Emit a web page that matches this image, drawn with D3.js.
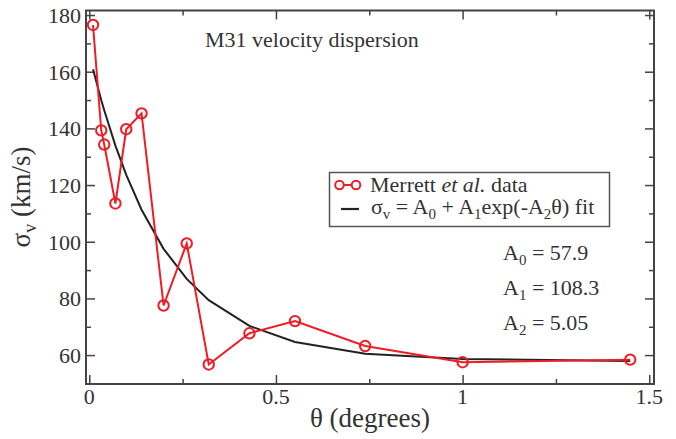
<!DOCTYPE html>
<html>
<head>
<meta charset="utf-8">
<script src="https://cdn.jsdelivr.net/npm/d3@7/dist/d3.min.js"></script>
<style>
  html, body { margin: 0; padding: 0; background: #fff; }
  svg { display: block; }
</style>
</head>
<body>
<svg id="chart" width="676" height="439"></svg>
<script>
// Data
const theta = [0.01, 0.032, 0.04, 0.07, 0.099, 0.14, 0.199, 0.261, 0.32, 0.429, 0.551, 0.739, 1.0, 1.449];
const sigma = [176.5, 139.3, 134.3, 113.5, 139.7, 145.3, 77.5, 99.4, 56.7, 67.7, 72.0, 63.2, 57.5, 58.4];
const fitValues = [160.9, 150.0, 146.4, 133.9, 123.6, 111.3, 97.5, 86.9, 79.4, 70.3, 64.6, 60.5, 58.6, 57.9];
const xTicks = [0, 0.5, 1, 1.5];
const xTickLabels = ["0", "0.5", "1", "1.5"];
const xMinorTicks = [0.25, 0.75, 1.25];
const yTicks = [60, 80, 100, 120, 140, 160, 180];
const yMinorTicks = [70, 90, 110, 130, 150, 170];
const fitParams = [["0", "57.9"], ["1", "108.3"], ["2", "5.05"]];

(function () {
const FONT = "Liberation Serif";
const svg = d3.select("#chart");
const pLeft = 86, pRight = 654, pTop = 10.5, pBottom = 384;
const x = d3.scaleLinear().domain([-0.0088, 1.5127]).range([pLeft, pRight]);
const y = d3.scaleLinear().domain([49.8, 181.6]).range([pBottom, pTop]);

const axisColor = "#444";
const textColor = "#333";
const red = "#ee1c24";

// Frame
svg.append("rect").attr("x", pLeft).attr("y", pTop)
  .attr("width", pRight - pLeft).attr("height", pBottom - pTop)
  .attr("fill", "none").attr("stroke", axisColor).attr("stroke-width", 2);

function addAxis(axis, transform, values, size) {
  const g = svg.append("g").attr("transform", transform)
    .call(axis.tickValues(values).tickSize(size).tickFormat(""));
  g.select(".domain").remove();
  g.selectAll("line").attr("stroke", axisColor).attr("stroke-width", 1.5);
}
addAxis(d3.axisTop(x), `translate(0,${pBottom})`, xTicks, 9);
addAxis(d3.axisTop(x), `translate(0,${pBottom})`, xMinorTicks, 5);
addAxis(d3.axisBottom(x), `translate(0,${pTop})`, xTicks, 9);
addAxis(d3.axisBottom(x), `translate(0,${pTop})`, xMinorTicks, 5);
addAxis(d3.axisRight(y), `translate(${pLeft},0)`, yTicks, 9);
addAxis(d3.axisRight(y), `translate(${pLeft},0)`, yMinorTicks, 5);
addAxis(d3.axisLeft(y), `translate(${pRight},0)`, yTicks, 9);
addAxis(d3.axisLeft(y), `translate(${pRight},0)`, yMinorTicks, 5);

function txt(parent) {
  return parent.append("text").attr("font-family", FONT).attr("fill", textColor);
}

// Tick labels
svg.append("g").selectAll("text").data(xTicks).join("text")
  .attr("font-family", FONT)
  .attr("x", d => x(d)).attr("y", 403.5)
  .attr("text-anchor", "middle").attr("font-size", 22).attr("fill", textColor)
  .text((d, i) => xTickLabels[i]);
svg.append("g").selectAll("text").data(yTicks).join("text")
  .attr("font-family", FONT)
  .attr("x", 81).attr("y", d => y(d) + 7.8)
  .attr("text-anchor", "end").attr("font-size", 22).attr("fill", textColor)
  .text(d => d);

// Axis titles
txt(svg).attr("x", 370).attr("y", 427).attr("text-anchor", "middle")
  .attr("font-size", 27).text("θ (degrees)");
const yt = txt(svg).attr("transform", "translate(30,197) rotate(-90)")
  .attr("text-anchor", "middle").attr("font-size", 27);
yt.append("tspan").text("σ");
yt.append("tspan").attr("font-size", 18).attr("dy", 6).text("v");
yt.append("tspan").attr("dy", -6).text(" (km/s)");

// Title
txt(svg).attr("x", 205).attr("y", 47).attr("font-size", 22).text("M31 velocity dispersion");

// Fit line
const line = d3.line().x(d => x(d[0])).y(d => y(d[1]));
svg.append("path").datum(theta.map((t, i) => [t, fitValues[i]]))
  .attr("d", line).attr("fill", "none").attr("stroke", "#222").attr("stroke-width", 2);

// Data line + markers
svg.append("path").datum(theta.map((t, i) => [t, sigma[i]]))
  .attr("d", line).attr("fill", "none").attr("stroke", red).attr("stroke-width", 2);
svg.append("g").selectAll("circle").data(theta.map((t, i) => [t, sigma[i]])).join("circle")
  .attr("cx", d => x(d[0])).attr("cy", d => y(d[1])).attr("r", 5.2)
  .attr("fill", "none").attr("stroke", red).attr("stroke-width", 2);

// Legend
const lg = svg.append("g");
lg.append("rect").attr("x", 329.5).attr("y", 172.5).attr("width", 280).attr("height", 54)
  .attr("fill", "#fff").attr("stroke", "#555").attr("stroke-width", 1.5);
lg.append("line").attr("x1", 339.5).attr("x2", 356).attr("y1", 185).attr("y2", 185)
  .attr("stroke", red).attr("stroke-width", 2);
lg.selectAll("circle.lg").data([339.5, 356]).join("circle").attr("class", "lg")
  .attr("cx", d => d).attr("cy", 185).attr("r", 4.3)
  .attr("fill", "#fff").attr("stroke", red).attr("stroke-width", 2);
lg.append("line").attr("x1", 341).attr("x2", 359).attr("y1", 209).attr("y2", 209)
  .attr("stroke", "#222").attr("stroke-width", 2.2);
const t1 = txt(lg).attr("x", 370).attr("y", 192).attr("font-size", 22);
t1.append("tspan").text("Merrett ");
t1.append("tspan").attr("font-style", "italic").text("et al.");
t1.append("tspan").text(" data");
const t2 = txt(lg).attr("x", 371).attr("y", 214).attr("font-size", 22);
t2.append("tspan").text("σ");
t2.append("tspan").attr("font-size", 15).attr("dy", 5).text("v");
t2.append("tspan").attr("dy", -5).text(" = A");
t2.append("tspan").attr("font-size", 15).attr("dy", 5).text("0");
t2.append("tspan").attr("dy", -5).text(" + A");
t2.append("tspan").attr("font-size", 15).attr("dy", 5).text("1");
t2.append("tspan").attr("dy", -5).text("exp(-A");
t2.append("tspan").attr("font-size", 15).attr("dy", 5).text("2");
t2.append("tspan").attr("dy", -5).text("θ) fit");

// Fit parameter annotations
const baselines = [259.5, 295, 330];
fitParams.forEach((p, i) => {
  const t = txt(svg).attr("x", 503).attr("y", baselines[i]).attr("font-size", 22);
  t.append("tspan").text("A");
  t.append("tspan").attr("font-size", 15).attr("dy", 5).text(p[0]);
  t.append("tspan").attr("dy", -5).text(" = " + p[1]);
});
})();
</script>
</body>
</html>
